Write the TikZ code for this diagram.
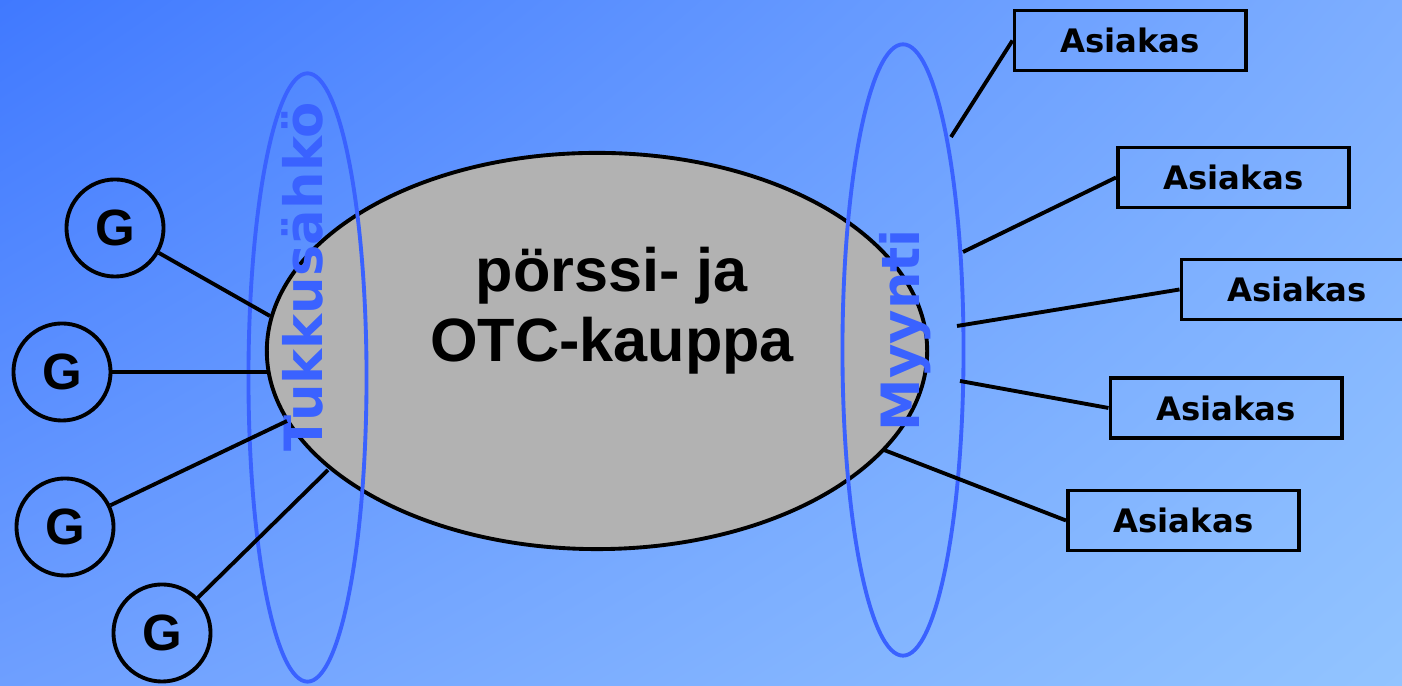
\documentclass[tikz,border=0pt]{standalone}
\usepackage{fontspec}
\setmainfont{Liberation Sans}
\newfontfamily\verdfont{DejaVu Sans}
\usetikzlibrary{shapes, shadings}

\definecolor{bgA}{HTML}{4079FF}
\definecolor{bgB}{HTML}{7DAEFF}
\definecolor{bgC}{HTML}{6E9FFF}
\definecolor{bgD}{HTML}{92C4FF}
\definecolor{ringblue}{HTML}{3A62FF}
\definecolor{kauppagray}{HTML}{B2B2B2}

\begin{document}
\begin{tikzpicture}[x=0.01cm, y=-0.01cm,
        gen/.style={draw, circle, line width=1.1pt, minimum size=0.97cm, inner sep=0pt,
            font=\fontsize{14.5}{17}\selectfont\bfseries},
        asiakas/.style={draw, line width=1.1pt, minimum width=2.31cm, minimum height=0.6cm,
            inner sep=0pt, font=\verdfont\fontsize{9.2}{11}\selectfont\bfseries},
        kehys/.style={draw=ringblue, ellipse, line width=1.1pt, inner sep=0pt},
        kehysteksti/.style={rotate=90, text=ringblue, inner sep=0pt,
            font=\verdfont\fontsize{15}{18}\selectfont\bfseries},
        link/.style={line width=1.1pt}]
        \useasboundingbox (0, 0) rectangle (1402, 686);
        \shade [upper left=bgA, upper right=bgB, lower left=bgC, lower right=bgD]
            (0, 0) rectangle (1402, 686);

        \node [draw, ellipse, fill=kauppagray, line width=1.1pt, inner sep=0pt,
            minimum width=6.6cm, minimum height=3.96cm] (otc) at (597, 351) {};
        \node [align=center, font=\fontsize{17.4}{19.8}\selectfont\bfseries] (otcteksti)
            at (612, 311) {pörssi- ja\\OTC-kauppa};

        \node [kehys, minimum width=1.18cm, minimum height=6.08cm] (tukku) at (307.5, 377.5) {};
        \node [kehys, minimum width=1.21cm, minimum height=6.11cm] (myynti) at (903, 350) {};
        \node [kehysteksti] (tukkuteksti) at (302, 277) {Tukkusähkö};
        \node [kehysteksti] (myyntiteksti) at (905, 330) {Myynti};

        \node [gen] (G1) at (115, 228) {G};
        \node [gen] (G2) at (62, 372) {G};
        \node [gen] (G3) at (65, 527) {G};
        \node [gen] (G4) at (162, 633) {G};

        \coordinate (T1) at (270, 316);
        \coordinate (T2) at (267, 372);
        \coordinate (T3) at (287, 421);
        \coordinate (T4) at (328, 470);

        \draw [link] (G1) -- (T1);
        \draw [link] (G2) -- (T2);
        \draw [link] (G3) -- (T3);
        \draw [link] (G4) -- (T4);

        \node [asiakas] (A1) at (1130, 40.5) {Asiakas};
        \node [asiakas] (A2) at (1233.5, 177.5) {Asiakas};
        \node [asiakas] (A3) at (1297, 289.5) {Asiakas};
        \node [asiakas] (A4) at (1226, 408) {Asiakas};
        \node [asiakas] (A5) at (1183.5, 520.5) {Asiakas};

        \coordinate (M1) at (951, 137);
        \coordinate (M2) at (963, 252);
        \coordinate (M3) at (957, 326);
        \coordinate (M4) at (960, 381);
        \coordinate (M5) at (884, 450);

        \draw [link] (M1) -- (A1.west);
        \draw [link] (M2) -- (A2.west);
        \draw [link] (M3) -- (A3.west);
        \draw [link] (M4) -- (A4.west);
        \draw [link] (M5) -- (A5.west);
    \end{tikzpicture}
\end{document}
